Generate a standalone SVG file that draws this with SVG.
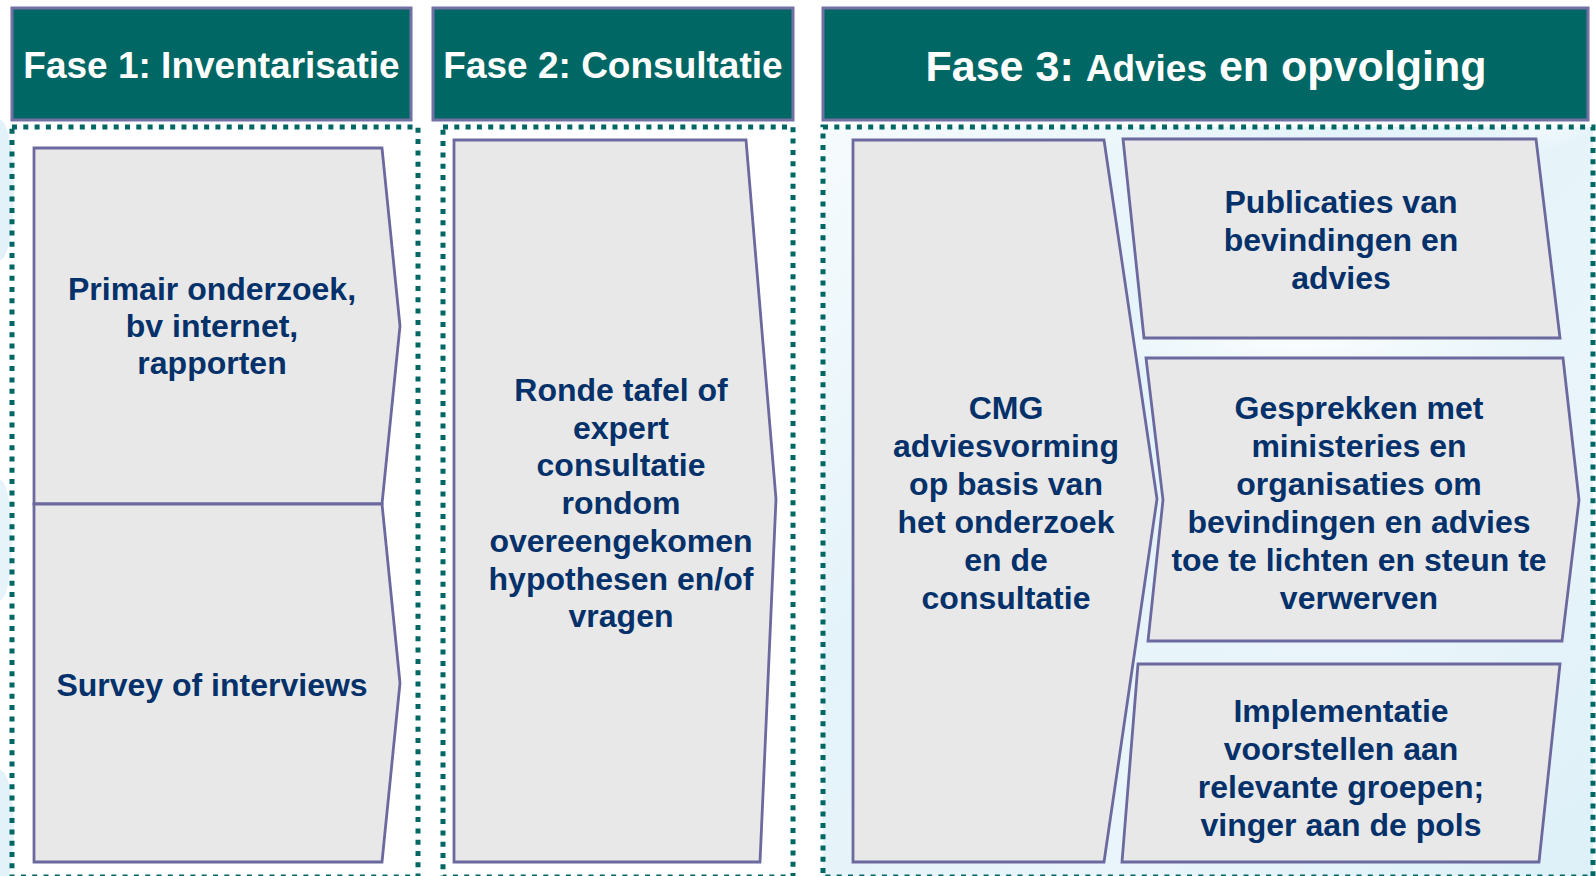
<svg xmlns="http://www.w3.org/2000/svg" width="1596" height="876" viewBox="0 0 1596 876">
  <defs>
    <linearGradient id="bg3" x1="0" y1="0" x2="1" y2="1">
      <stop offset="0" stop-color="#f6fbfd"/>
      <stop offset="0.35" stop-color="#e4f3fa"/>
      <stop offset="0.7" stop-color="#e9f5fa"/>
      <stop offset="1" stop-color="#ddf0f8"/>
    </linearGradient>
    <radialGradient id="glow" cx="0.5" cy="0.5" r="0.5">
      <stop offset="0" stop-color="#ffffff" stop-opacity="0.8"/>
      <stop offset="1" stop-color="#ffffff" stop-opacity="0"/>
    </radialGradient>
    <style>
      .hdr { fill: #006764; stroke: #7370a3; stroke-width: 3; }
      .hdrtxt { fill: #ffffff; font-family: "Liberation Sans", Arial, sans-serif; font-weight: bold; text-anchor: middle; }
      .frame { fill: none; stroke: #006764; stroke-width: 5; stroke-dasharray: 5 6.3; }
      .box { fill: #e8e8e8; stroke: #6b699d; stroke-width: 2.8; stroke-linejoin: miter; }
      .txt { fill: #05316a; font-family: "Liberation Sans", Arial, sans-serif; font-weight: bold; font-size: 32px; text-anchor: middle; }
    </style>
  </defs>

  <rect width="1596" height="876" fill="#ffffff"/>
  <g id="background">
    <ellipse cx="0" cy="190" rx="14" ry="70" fill="#e3f2f9"/>
    <ellipse cx="0" cy="540" rx="12" ry="60" fill="#e6f3f9"/>
    <ellipse cx="0" cy="830" rx="14" ry="60" fill="#e3f2f9"/>
    <rect x="823" y="127" width="770" height="750" fill="url(#bg3)"/>
    <ellipse cx="1300" cy="345" rx="260" ry="30" fill="url(#glow)"/>
    <ellipse cx="1540" cy="110" rx="60" ry="40" fill="url(#glow)"/>
  </g>

  <g id="header1">
    <rect class="hdr" x="12" y="8" width="399" height="112"/>
    <text class="hdrtxt" x="211.5" y="78" font-size="37">Fase 1: Inventarisatie</text>
  </g>
  <g id="header2">
    <rect class="hdr" x="433" y="8" width="360" height="112"/>
    <text class="hdrtxt" x="613" y="78" font-size="37">Fase 2: Consultatie</text>
  </g>
  <g id="header3">
    <rect class="hdr" x="823" y="8" width="765" height="112"/>
    <text class="hdrtxt" x="1206" y="81" font-size="43">Fase 3: <tspan font-size="37">Advies</tspan> en opvolging</text>
  </g>

  <g id="frames">
    <rect class="frame" x="12" y="127" width="406" height="750"/>
    <rect class="frame" x="443" y="127" width="350" height="750"/>
    <rect class="frame" x="823" y="127" width="770" height="750"/>
  </g>

  <g id="primair">
    <polygon class="box" points="34,148 382,148 400,326 382,504 34,504"/>
    <text class="txt" x="212" y="300">Primair onderzoek,</text>
    <text class="txt" x="212" y="337">bv internet,</text>
    <text class="txt" x="212" y="374">rapporten</text>
  </g>
  <g id="survey">
    <polygon class="box" points="34,504 382,504 400,683 382,862 34,862"/>
    <text class="txt" x="212" y="696">Survey of interviews</text>
  </g>

  <g id="ronde">
    <polygon class="box" points="454,140 746,140 776,499 760,862 454,862"/>
    <text class="txt" x="621" y="401">Ronde tafel of</text>
    <text class="txt" x="621" y="439">expert</text>
    <text class="txt" x="621" y="476">consultatie</text>
    <text class="txt" x="621" y="514">rondom</text>
    <text class="txt" x="621" y="552">overeengekomen</text>
    <text class="txt" x="621" y="590">hypothesen en/of</text>
    <text class="txt" x="621" y="627">vragen</text>
  </g>

  <g id="cmg">
    <polygon class="box" points="853,140 1104,140 1157,499 1104,862 853,862"/>
    <text class="txt" x="1006" y="419">CMG</text>
    <text class="txt" x="1006" y="457">adviesvorming</text>
    <text class="txt" x="1006" y="495">op basis van</text>
    <text class="txt" x="1006" y="533">het onderzoek</text>
    <text class="txt" x="1006" y="571">en de</text>
    <text class="txt" x="1006" y="609">consultatie</text>
  </g>

  <g id="publicaties">
    <polygon class="box" points="1123,139 1536,139 1560,338 1144,338"/>
    <text class="txt" x="1341" y="213">Publicaties van</text>
    <text class="txt" x="1341" y="251">bevindingen en</text>
    <text class="txt" x="1341" y="289">advies</text>
  </g>

  <g id="gesprekken">
    <polygon class="box" points="1146,358 1563,358 1579,500 1562,641 1148,641 1163,500"/>
    <text class="txt" x="1359" y="419">Gesprekken met</text>
    <text class="txt" x="1359" y="457">ministeries en</text>
    <text class="txt" x="1359" y="495">organisaties om</text>
    <text class="txt" x="1359" y="533">bevindingen en advies</text>
    <text class="txt" x="1359" y="571">toe te lichten en steun te</text>
    <text class="txt" x="1359" y="609">verwerven</text>
  </g>

  <g id="implementatie">
    <polygon class="box" points="1138,664 1560,664 1539,862 1122,862"/>
    <text class="txt" x="1341" y="722">Implementatie</text>
    <text class="txt" x="1341" y="760">voorstellen aan</text>
    <text class="txt" x="1341" y="798">relevante groepen;</text>
    <text class="txt" x="1341" y="836">vinger aan de pols</text>
  </g>

  <g id="connectors"/>
</svg>
